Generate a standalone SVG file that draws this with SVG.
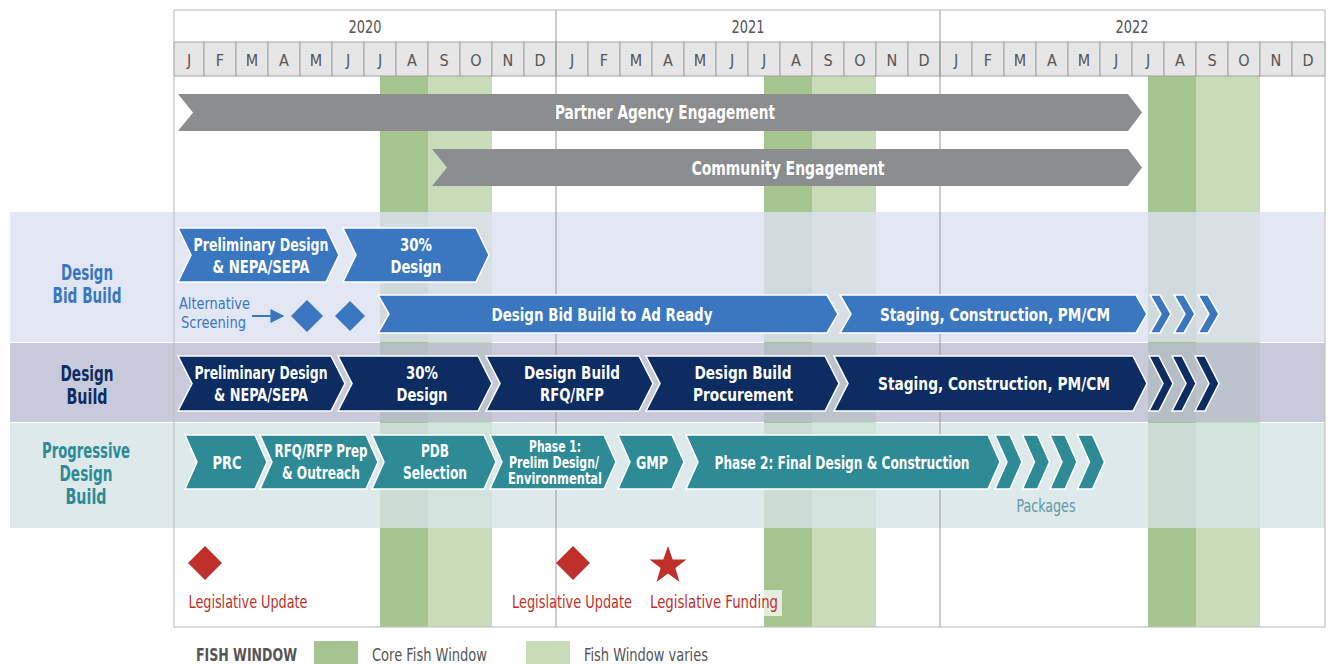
<svg xmlns="http://www.w3.org/2000/svg" width="1334" height="664" viewBox="0 0 1334 664">
  <style>
    text { font-family: "Liberation Sans Narrow", "DejaVu Sans Condensed", "Liberation Sans", sans-serif; }
    .yr { font-size: 17px; fill: #555; text-anchor: middle; }
    .mo { font-size: 16px; fill: #555; text-anchor: middle; }
    .cell { fill: #e6e6e6; stroke: #a3a3a3; stroke-width: 1; }
    .core { fill: #a5c490; }
    .vary { fill: #c9dcb9; }
    .gray { fill: #8b8d8f; }
    .glbl { font-size: 20px; font-weight: bold; fill: #fff; text-anchor: middle; }
    .dbb { fill: #3b77c1; stroke: #fff; stroke-width: 1.5; }
    .db { fill: #0d2c62; stroke: #fff; stroke-width: 1.5; }
    .pdb { fill: #2e8b96; stroke: #fff; stroke-width: 1.5; }
    .lbl { font-size: 18px; font-weight: bold; fill: #fff; text-anchor: middle; }
    .lbls { font-size: 17px; font-weight: bold; fill: #fff; text-anchor: middle; }
    .lblxs { font-size: 15px; font-weight: bold; fill: #fff; text-anchor: middle; }
    .row { font-size: 21px; font-weight: bold; text-anchor: middle; }
    .red { fill: #c0302a; }
    .redt { font-size: 18px; fill: #c0302a; text-anchor: middle; }
    .leg { font-size: 17px; fill: #555; }
    .div { stroke: #9a9a9a; stroke-width: 1; }
  </style>
  <defs>
    <marker id="arrowhead" viewBox="0 0 10 10" refX="9" refY="5" markerWidth="7" markerHeight="7" orient="auto">
      <path d="M0,0 L10,5 L0,10 z" fill="#3b77c1"/>
    </marker>
  </defs>

  <rect width="1334" height="664" fill="#fff"/>

  <!-- fish windows, full chart height -->
  <g id="fish-windows">
    <rect class="core" x="380" y="76" width="48" height="551"/>
    <rect class="vary" x="428" y="76" width="64" height="551"/>
    <rect class="core" x="764" y="76" width="48" height="551"/>
    <rect class="vary" x="812" y="76" width="64" height="551"/>
    <rect class="core" x="1148" y="76" width="48" height="551"/>
    <rect class="vary" x="1196" y="76" width="64" height="551"/>
  </g>

  <!-- delivery method bands (semi-transparent over the fish windows) -->
  <g id="bands" fill-opacity="0.8">
    <rect x="10" y="212" width="1315" height="130" fill="#dce1f0"/>
    <rect x="10" y="343" width="1315" height="79" fill="#babdd2"/>
    <rect x="10" y="423" width="1315" height="105" fill="#d4e4e5"/>
  </g>

  <!-- timeline header -->
  <g id="timeline">
    <rect x="174" y="10" width="1151" height="32" fill="#fff"/>
    <text class="yr" x="365" y="33" textLength="33" lengthAdjust="spacingAndGlyphs">2020</text>
    <text class="yr" x="748" y="33" textLength="33" lengthAdjust="spacingAndGlyphs">2021</text>
    <text class="yr" x="1132" y="33" textLength="33" lengthAdjust="spacingAndGlyphs">2022</text>
    <g id="months">
      <rect class="cell" x="174" y="42" width="30" height="34"/>
      <rect class="cell" x="204" y="42" width="32" height="34"/>
      <rect class="cell" x="236" y="42" width="32" height="34"/>
      <rect class="cell" x="268" y="42" width="32" height="34"/>
      <rect class="cell" x="300" y="42" width="32" height="34"/>
      <rect class="cell" x="332" y="42" width="32" height="34"/>
      <rect class="cell" x="364" y="42" width="32" height="34"/>
      <rect class="cell" x="396" y="42" width="32" height="34"/>
      <rect class="cell" x="428" y="42" width="32" height="34"/>
      <rect class="cell" x="460" y="42" width="32" height="34"/>
      <rect class="cell" x="492" y="42" width="32" height="34"/>
      <rect class="cell" x="524" y="42" width="32" height="34"/>
      <rect class="cell" x="556" y="42" width="32" height="34"/>
      <rect class="cell" x="588" y="42" width="32" height="34"/>
      <rect class="cell" x="620" y="42" width="32" height="34"/>
      <rect class="cell" x="652" y="42" width="32" height="34"/>
      <rect class="cell" x="684" y="42" width="32" height="34"/>
      <rect class="cell" x="716" y="42" width="32" height="34"/>
      <rect class="cell" x="748" y="42" width="32" height="34"/>
      <rect class="cell" x="780" y="42" width="32" height="34"/>
      <rect class="cell" x="812" y="42" width="32" height="34"/>
      <rect class="cell" x="844" y="42" width="32" height="34"/>
      <rect class="cell" x="876" y="42" width="32" height="34"/>
      <rect class="cell" x="908" y="42" width="32" height="34"/>
      <rect class="cell" x="940" y="42" width="32" height="34"/>
      <rect class="cell" x="972" y="42" width="32" height="34"/>
      <rect class="cell" x="1004" y="42" width="32" height="34"/>
      <rect class="cell" x="1036" y="42" width="32" height="34"/>
      <rect class="cell" x="1068" y="42" width="32" height="34"/>
      <rect class="cell" x="1100" y="42" width="32" height="34"/>
      <rect class="cell" x="1132" y="42" width="32" height="34"/>
      <rect class="cell" x="1164" y="42" width="32" height="34"/>
      <rect class="cell" x="1196" y="42" width="32" height="34"/>
      <rect class="cell" x="1228" y="42" width="32" height="34"/>
      <rect class="cell" x="1260" y="42" width="32" height="34"/>
      <rect class="cell" x="1292" y="42" width="33" height="34"/>
      <text class="mo" x="189" y="66">J</text><text class="mo" x="220" y="66">F</text><text class="mo" x="252" y="66">M</text><text class="mo" x="284" y="66">A</text><text class="mo" x="316" y="66">M</text><text class="mo" x="348" y="66">J</text><text class="mo" x="380" y="66">J</text><text class="mo" x="412" y="66">A</text><text class="mo" x="444" y="66">S</text><text class="mo" x="476" y="66">O</text><text class="mo" x="508" y="66">N</text><text class="mo" x="540" y="66">D</text>
      <text class="mo" x="572" y="66">J</text><text class="mo" x="604" y="66">F</text><text class="mo" x="636" y="66">M</text><text class="mo" x="668" y="66">A</text><text class="mo" x="700" y="66">M</text><text class="mo" x="732" y="66">J</text><text class="mo" x="764" y="66">J</text><text class="mo" x="796" y="66">A</text><text class="mo" x="828" y="66">S</text><text class="mo" x="860" y="66">O</text><text class="mo" x="892" y="66">N</text><text class="mo" x="924" y="66">D</text>
      <text class="mo" x="956" y="66">J</text><text class="mo" x="988" y="66">F</text><text class="mo" x="1020" y="66">M</text><text class="mo" x="1052" y="66">A</text><text class="mo" x="1084" y="66">M</text><text class="mo" x="1116" y="66">J</text><text class="mo" x="1148" y="66">J</text><text class="mo" x="1180" y="66">A</text><text class="mo" x="1212" y="66">S</text><text class="mo" x="1244" y="66">O</text><text class="mo" x="1276" y="66">N</text><text class="mo" x="1308" y="66">D</text>
    </g>
    <line class="div" x1="556" y1="10" x2="556" y2="627"/>
    <line class="div" x1="940" y1="10" x2="940" y2="627"/>
    <rect x="174" y="10" width="1151" height="617" fill="none" stroke="#c4c4c4" stroke-width="1.2"/>
  </g>

  <!-- row labels -->
  <g id="row-labels">
    <text class="row" x="87" y="280" fill="#3b77c1" textLength="52" lengthAdjust="spacingAndGlyphs">Design</text>
    <text class="row" x="87" y="303" fill="#3b77c1" textLength="69" lengthAdjust="spacingAndGlyphs">Bid Build</text>
    <text class="row" x="87" y="381" fill="#0d2c62" textLength="53" lengthAdjust="spacingAndGlyphs">Design</text>
    <text class="row" x="87" y="404" fill="#0d2c62" textLength="41" lengthAdjust="spacingAndGlyphs">Build</text>
    <text class="row" x="86" y="458" fill="#2e8b96" textLength="88" lengthAdjust="spacingAndGlyphs">Progressive</text>
    <text class="row" x="86" y="481" fill="#2e8b96" textLength="53" lengthAdjust="spacingAndGlyphs">Design</text>
    <text class="row" x="86" y="504" fill="#2e8b96" textLength="41" lengthAdjust="spacingAndGlyphs">Build</text>
  </g>

  <!-- engagement arrows -->
  <g id="partner-agency-engagement">
    <polygon class="gray" points="178,94 1128,94 1142,112.5 1128,131 178,131 193,112.5"/>
    <text class="glbl" x="665" y="119" textLength="220" lengthAdjust="spacingAndGlyphs">Partner Agency Engagement</text>
  </g>
  <g id="community-engagement">
    <polygon class="gray" points="432,149 1128,149 1142,167.5 1128,186 432,186 447,167.5"/>
    <text class="glbl" x="788" y="175" textLength="193" lengthAdjust="spacingAndGlyphs">Community Engagement</text>
  </g>

  <!-- Design Bid Build -->
  <g id="dbb-prelim">
    <polygon class="dbb" points="178,228 326,228 339,255 326,282 178,282 191,255"/>
    <text class="lbl" x="261" y="251" textLength="135" lengthAdjust="spacingAndGlyphs">Preliminary Design</text>
    <text class="lbl" x="261" y="273" textLength="97" lengthAdjust="spacingAndGlyphs">&amp; NEPA/SEPA</text>
  </g>
  <g id="dbb-30">
    <polygon class="dbb" points="343,228 476,228 489,255 476,282 343,282 356,255"/>
    <text class="lbl" x="416" y="251" textLength="32" lengthAdjust="spacingAndGlyphs">30%</text>
    <text class="lbl" x="416" y="273" textLength="51" lengthAdjust="spacingAndGlyphs">Design</text>
  </g>
  <g id="dbb-alt-screening">
    <text x="179" y="309" font-size="16" fill="#3b77c1" textLength="71" lengthAdjust="spacingAndGlyphs">Alternative</text>
    <text x="181" y="328" font-size="16" fill="#3b77c1" textLength="65" lengthAdjust="spacingAndGlyphs">Screening</text>
    <polygon fill="#3b77c1" points="307,300 323,316 307,332 291,316"/>
    <polygon fill="#3b77c1" points="350,301 365,316 350,331 335,316"/>
  </g>
  <g id="dbb-ad-ready">
    <polygon class="dbb" points="378,295 827,295 838,314 827,333 378,333 389,314"/>
    <text class="lbl" x="602" y="321" textLength="221" lengthAdjust="spacingAndGlyphs">Design Bid Build to Ad Ready</text>
  </g>
  <g id="dbb-staging">
    <polygon class="dbb" points="840,295 1136,295 1147,314 1136,333 840,333 851,314"/>
    <text class="lbl" x="995" y="321" textLength="230" lengthAdjust="spacingAndGlyphs">Staging, Construction, PM/CM</text>
    <polygon class="dbb" points="1150,295 1160,295 1171,314 1160,333 1150,333 1161,314"/>
    <polygon class="dbb" points="1174,295 1184,295 1195,314 1184,333 1174,333 1185,314"/>
    <polygon class="dbb" points="1198,295 1208,295 1219,314 1208,333 1198,333 1209,314"/>
  </g>

  <!-- Design Build -->
  <g id="db-prelim">
    <polygon class="db" points="178,356 331,356 345,383.5 331,411 178,411 192,383.5"/>
    <text class="lbl" x="261" y="379" textLength="133" lengthAdjust="spacingAndGlyphs">Preliminary Design</text>
    <text class="lbl" x="261" y="401" textLength="94" lengthAdjust="spacingAndGlyphs">&amp; NEPA/SEPA</text>
  </g>
  <g id="db-30">
    <polygon class="db" points="338,356 478,356 492,383.5 478,411 338,411 352,383.5"/>
    <text class="lbl" x="422" y="379" textLength="32" lengthAdjust="spacingAndGlyphs">30%</text>
    <text class="lbl" x="422" y="401" textLength="51" lengthAdjust="spacingAndGlyphs">Design</text>
  </g>
  <g id="db-rfq">
    <polygon class="db" points="486,356 639,356 653,383.5 639,411 486,411 500,383.5"/>
    <text class="lbl" x="572" y="379" textLength="96" lengthAdjust="spacingAndGlyphs">Design Build</text>
    <text class="lbl" x="572" y="401" textLength="64" lengthAdjust="spacingAndGlyphs">RFQ/RFP</text>
  </g>
  <g id="db-procurement">
    <polygon class="db" points="646,356 825,356 839,383.5 825,411 646,411 660,383.5"/>
    <text class="lbl" x="743" y="379" textLength="97" lengthAdjust="spacingAndGlyphs">Design Build</text>
    <text class="lbl" x="743" y="401" textLength="100" lengthAdjust="spacingAndGlyphs">Procurement</text>
  </g>
  <g id="db-staging">
    <polygon class="db" points="834,356 1133,356 1147,383.5 1133,411 834,411 848,383.5"/>
    <text class="lbl" x="994" y="390" textLength="232" lengthAdjust="spacingAndGlyphs">Staging, Construction, PM/CM</text>
    <polygon class="db" points="1149,356 1159,356 1173,383.5 1159,411 1149,411 1163,383.5"/>
    <polygon class="db" points="1172,356 1182,356 1196,383.5 1182,411 1172,411 1186,383.5"/>
    <polygon class="db" points="1195,356 1205,356 1219,383.5 1205,411 1195,411 1209,383.5"/>
  </g>

  <!-- Progressive Design Build -->
  <g id="pdb-prc">
    <polygon class="pdb" points="185,435 255,435 267,462 255,489 185,489 197,462"/>
    <text class="lbls" x="227" y="469" textLength="29" lengthAdjust="spacingAndGlyphs">PRC</text>
  </g>
  <g id="pdb-rfq">
    <polygon class="pdb" points="260,435 366,435 378,462 366,489 260,489 272,462"/>
    <text class="lbls" x="321" y="457" textLength="93" lengthAdjust="spacingAndGlyphs">RFQ/RFP Prep</text>
    <text class="lbls" x="321" y="479" textLength="78" lengthAdjust="spacingAndGlyphs">&amp; Outreach</text>
  </g>
  <g id="pdb-selection">
    <polygon class="pdb" points="372,435 484,435 496,462 484,489 372,489 384,462"/>
    <text class="lbls" x="435" y="457" textLength="28" lengthAdjust="spacingAndGlyphs">PDB</text>
    <text class="lbls" x="435" y="479" textLength="64" lengthAdjust="spacingAndGlyphs">Selection</text>
  </g>
  <g id="pdb-phase1">
    <polygon class="pdb" points="490,435 604,435 616,462 604,489 490,489 502,462"/>
    <text class="lblxs" x="555" y="452" textLength="52" lengthAdjust="spacingAndGlyphs">Phase 1:</text>
    <text class="lblxs" x="554" y="468" textLength="90" lengthAdjust="spacingAndGlyphs">Prelim Design/</text>
    <text class="lblxs" x="555" y="484" textLength="94" lengthAdjust="spacingAndGlyphs">Environmental</text>
  </g>
  <g id="pdb-gmp">
    <polygon class="pdb" points="618,435 672,435 684,462 672,489 618,489 630,462"/>
    <text class="lbls" x="652" y="469" textLength="32" lengthAdjust="spacingAndGlyphs">GMP</text>
  </g>
  <g id="pdb-phase2">
    <polygon class="pdb" points="686,435 988,435 1000,462 988,489 686,489 698,462"/>
    <text class="lbls" x="842" y="469" textLength="255" lengthAdjust="spacingAndGlyphs">Phase 2: Final Design &amp; Construction</text>
    <polygon class="pdb" points="995,435 1010,435 1022,462 1010,489 995,489 1007,462"/>
    <polygon class="pdb" points="1022.5,435 1037.5,435 1049.5,462 1037.5,489 1022.5,489 1034.5,462"/>
    <polygon class="pdb" points="1050,435 1065,435 1077,462 1065,489 1050,489 1062,462"/>
    <polygon class="pdb" points="1077.5,435 1092.5,435 1104.5,462 1092.5,489 1077.5,489 1089.5,462"/>
    <text x="1046" y="512" font-size="17" fill="#5f9aa6" text-anchor="middle" textLength="59" lengthAdjust="spacingAndGlyphs">Packages</text>
  </g>

  <!-- connectors -->
  <g id="connectors">
    <line x1="252" y1="316" x2="283" y2="316" stroke="#3b77c1" stroke-width="2" marker-end="url(#arrowhead)"/>
  </g>

  <!-- legislative milestones -->
  <g id="legislative-update-2020">
    <polygon class="red" points="205,546 222,563 205,580 188,563"/>
    <text class="redt" x="248" y="608" textLength="119" lengthAdjust="spacingAndGlyphs">Legislative Update</text>
  </g>
  <g id="legislative-update-2021">
    <polygon class="red" points="573,546 590,563 573,580 556,563"/>
    <text class="redt" x="572" y="608" textLength="120" lengthAdjust="spacingAndGlyphs">Legislative Update</text>
  </g>
  <g id="legislative-funding">
    <polygon class="red" points="668,546 672.7,559.5 686.5,559.5 675.4,568 679.5,582 668,573.5 656.5,582 660.6,568 649.5,559.5 663.3,559.5"/>
    <rect x="648" y="590" width="134" height="26" fill="#fff" fill-opacity="0.7"/>
    <text class="redt" x="714" y="608" textLength="128" lengthAdjust="spacingAndGlyphs">Legislative Funding</text>
  </g>

  <!-- legend -->
  <g id="legend">
    <text class="leg" x="196" y="661" font-size="18" font-weight="bold" textLength="101" lengthAdjust="spacingAndGlyphs">FISH WINDOW</text>
    <rect class="core" x="314" y="641" width="44" height="23"/>
    <text class="leg" x="372" y="661" textLength="115" lengthAdjust="spacingAndGlyphs">Core Fish Window</text>
    <rect class="vary" x="526" y="641" width="44" height="23"/>
    <text class="leg" x="584" y="661" textLength="124" lengthAdjust="spacingAndGlyphs">Fish Window varies</text>
  </g>
</svg>
